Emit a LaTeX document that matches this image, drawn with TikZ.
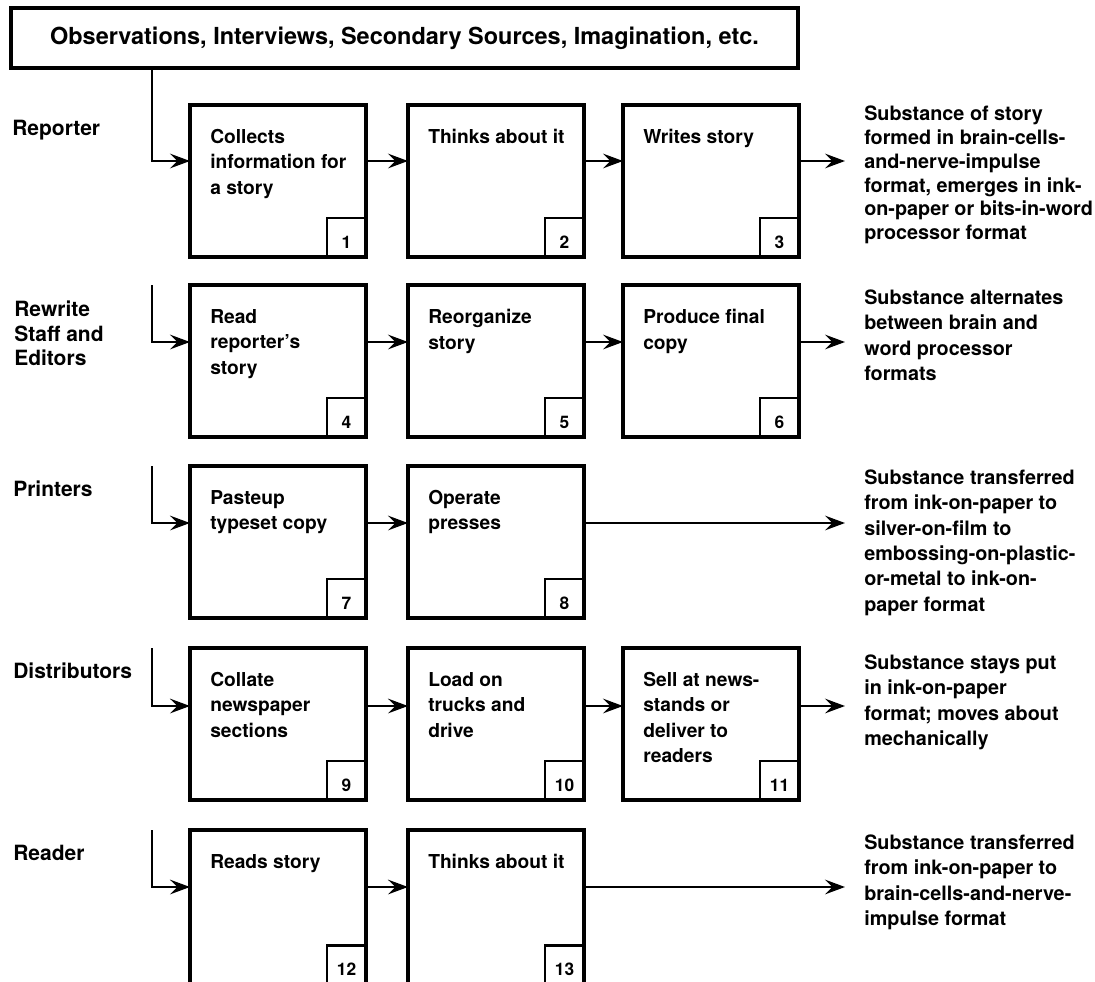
\documentclass[tikz,border=0pt]{standalone}
\usepackage{fontspec}
\setmainfont{TeX Gyre Heros}
\usetikzlibrary{arrows.meta}

% one unit = one pixel of the 1095 x 981 sheet, y grows downwards
\tikzset{
  srcbox/.style={draw, line width=2.5pt, minimum width=590.25pt, minimum height=45pt,
    inner sep=0pt, outer sep=0pt, anchor=north west,
    font=\fontsize{17.6pt}{20pt}\selectfont\bfseries},
  stagebox/.style={draw, line width=2.5pt, minimum width=132pt, minimum height=114pt,
    inner sep=0pt, outer sep=0pt, anchor=north west},
  numbox/.style={draw, line width=1.8pt, minimum size=29.25pt, inner sep=0pt, outer sep=0pt,
    anchor=south east, text height=16pt, text depth=0pt,
    font=\fontsize{13pt}{15pt}\selectfont\bfseries},
  boxtext/.style={anchor=north west, align=left, inner sep=0pt,
    font=\fontsize{14.4pt}{19.1pt}\selectfont\bfseries},
  desctext/.style={anchor=north west, align=left, inner xsep=14.25pt, inner ysep=0pt,
    font=\fontsize{14.85pt}{19pt}\selectfont\bfseries},
  rolelabel/.style={anchor=north west, align=left, inner sep=0pt,
    font=\fontsize{15.75pt}{18.4pt}\selectfont\bfseries},
  flow/.style={line width=2pt, line join=miter,
    -{Stealth[length=15pt,width=11pt,inset=5.5pt]}},
}

\begin{document}
\begin{tikzpicture}[x=0.75pt,y=-0.75pt]
\clip (0,0) rectangle (1095,981);

% source of all material
\node[srcbox] (src) at (11,8) {Observations, Interviews, Secondary Sources, Imagination, etc.};

% arrow levels of the five rows
\coordinate (r1) at (0,161);
\coordinate (r2) at (0,342);
\coordinate (r3) at (0,523);
\coordinate (r4) at (0,706);
\coordinate (r5) at (0,887);
\coordinate (feed) at (152,0);

% ---------- Reporter ----------
\node[rolelabel] (l1) at (12,120) {Reporter};
\node[stagebox] (b1) at (190,105) {};
\node[stagebox] (b2) at (408,105) {};
\node[stagebox] (b3) at (623,105) {};
\node[boxtext] (t1) at ([shift={(20,24)}]b1.north west) {Collects\\information for\\a story};
\node[boxtext] (t2) at ([shift={(20,24)}]b2.north west) {Thinks about it};
\node[boxtext] (t3) at ([shift={(20,24)}]b3.north west) {Writes story};
\node[numbox] (n1) at (b1.south east) {1};
\node[numbox] (n2) at (b2.south east) {2};
\node[numbox] (n3) at (b3.south east) {3};
\node[desctext, font=\fontsize{14.85pt}{17.8pt}\selectfont\bfseries] (d1) at (845,106)
  {Substance of story\\formed in brain-cells-\\and-nerve-impulse\\format, emerges in ink-\\on-paper or bits-in-word\\processor format};
\draw[flow] (src.south -| feed) -- (feed |- r1) -- (b1.west |- r1);
\draw[flow] (b1.east |- r1) -- (b2.west |- r1);
\draw[flow] (b2.east |- r1) -- (b3.west |- r1);
\draw[flow] (b3.east |- r1) -- (d1.west |- r1);

% ---------- Rewrite Staff and Editors ----------
\node[rolelabel] (l2) at (14,301) {Rewrite\\Staff and\\Editors};
\node[stagebox] (b4) at (190,285) {};
\node[stagebox] (b5) at (408,285) {};
\node[stagebox] (b6) at (623,285) {};
\node[boxtext] (t4) at ([shift={(20,24)}]b4.north west) {Read\\reporter's\\story};
\node[boxtext] (t5) at ([shift={(20,24)}]b5.north west) {Reorganize\\story};
\node[boxtext] (t6) at ([shift={(20,24)}]b6.north west) {Produce final\\copy};
\node[numbox] (n4) at (b4.south east) {4};
\node[numbox] (n5) at (b5.south east) {5};
\node[numbox] (n6) at (b6.south east) {6};
\node[desctext] (d2) at (845,289.5)
  {Substance alternates\\between brain and\\word processor\\formats};
\draw[flow] (b4.north -| feed) -- (feed |- r2) -- (b4.west |- r2);
\draw[flow] (b4.east |- r2) -- (b5.west |- r2);
\draw[flow] (b5.east |- r2) -- (b6.west |- r2);
\draw[flow] (b6.east |- r2) -- (d2.west |- r2);

% ---------- Printers ----------
\node[rolelabel] (l3) at (13,481) {Printers};
\node[stagebox] (b7) at (190,466) {};
\node[stagebox] (b8) at (408,466) {};
\node[boxtext] (t7) at ([shift={(20,24)}]b7.north west) {Pasteup\\typeset copy};
\node[boxtext] (t8) at ([shift={(20,24)}]b8.north west) {Operate\\presses};
\node[numbox] (n7) at (b7.south east) {7};
\node[numbox] (n8) at (b8.south east) {8};
\node[desctext] (d3) at (845,469.5)
  {Substance transferred\\from ink-on-paper to\\silver-on-film to\\embossing-on-plastic-\\or-metal to ink-on-\\paper format};
\draw[flow] (b7.north -| feed) -- (feed |- r3) -- (b7.west |- r3);
\draw[flow] (b7.east |- r3) -- (b8.west |- r3);
\draw[flow] (b8.east |- r3) -- (d3.west |- r3);

% ---------- Distributors ----------
\node[rolelabel] (l4) at (13,663) {Distributors};
\node[stagebox] (b9) at (190,648) {};
\node[stagebox] (b10) at (408,648) {};
\node[stagebox] (b11) at (623,648) {};
\node[boxtext] (t9) at ([shift={(20,24)}]b9.north west) {Collate\\newspaper\\sections};
\node[boxtext] (t10) at ([shift={(20,24)}]b10.north west) {Load on\\trucks and\\drive};
\node[boxtext] (t11) at ([shift={(20,24)}]b11.north west) {Sell at news-\\stands or\\deliver to\\readers};
\node[numbox] (n9) at (b9.south east) {9};
\node[numbox] (n10) at (b10.south east) {10};
\node[numbox] (n11) at (b11.south east) {11};
\node[desctext] (d4) at (845,654.5)
  {Substance stays put\\in ink-on-paper\\format; moves about\\mechanically};
\draw[flow] (b9.north -| feed) -- (feed |- r4) -- (b9.west |- r4);
\draw[flow] (b9.east |- r4) -- (b10.west |- r4);
\draw[flow] (b10.east |- r4) -- (b11.west |- r4);
\draw[flow] (b11.east |- r4) -- (d4.west |- r4);

% ---------- Reader (boxes run past the lower edge) ----------
\node[rolelabel] (l5) at (13,845) {Reader};
\node[stagebox, minimum height=116pt] (b12) at (190,830) {};
\node[stagebox, minimum height=116pt] (b13) at (408,830) {};
\node[boxtext] (t12) at ([shift={(20,24)}]b12.north west) {Reads story};
\node[boxtext] (t13) at ([shift={(20,24)}]b13.north west) {Thinks about it};
\node[numbox] (n12) at (b12.south east) {12};
\node[numbox] (n13) at (b13.south east) {13};
\node[desctext] (d5) at (845,834.5)
  {Substance transferred\\from ink-on-paper to\\brain-cells-and-nerve-\\impulse format};
\draw[flow] (b12.north -| feed) -- (feed |- r5) -- (b12.west |- r5);
\draw[flow] (b12.east |- r5) -- (b13.west |- r5);
\draw[flow] (b13.east |- r5) -- (d5.west |- r5);
\end{tikzpicture}
\end{document}
